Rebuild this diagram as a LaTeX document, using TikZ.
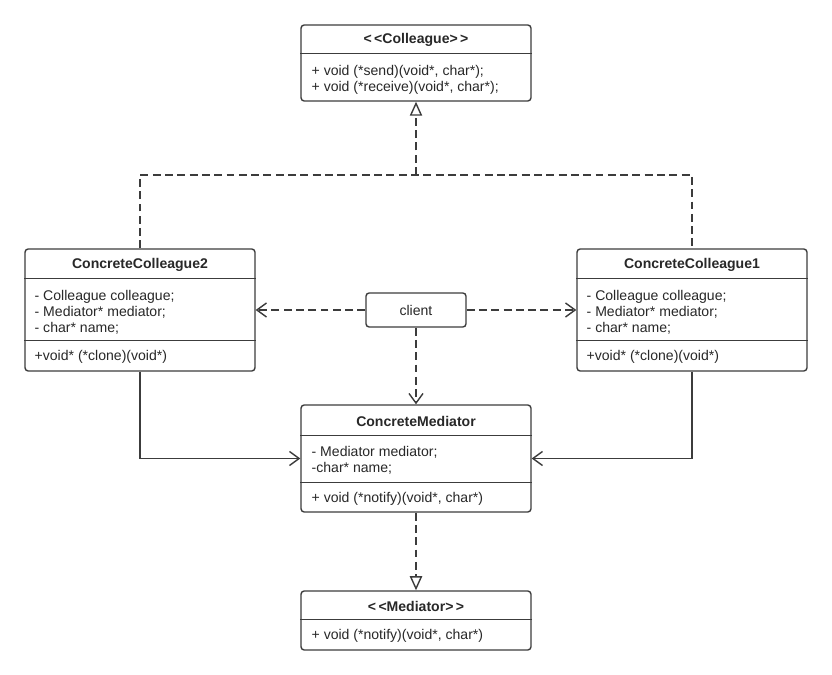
\documentclass[tikz,border=0pt]{standalone}
\usepackage{fontspec}
\setmainfont{Liberation Sans}
\definecolor{LineGray}{RGB}{60, 60, 60}
\definecolor{TextGray}{RGB}{40, 40, 40}
\usetikzlibrary{arrows.meta, positioning, calc}

\begin{document}
\begin{tikzpicture}[
        x=0.02cm, y=-0.02cm,
        % Styles
        classbox/.style={rectangle, draw=LineGray, line width=0.8pt, fill=white, rounded corners=1.8pt, minimum width=4.6cm, inner sep=0pt},
        classname/.style={font=\fontsize{8}{9}\selectfont\bfseries, text=TextGray, inner sep=0pt},
        members/.style={font=\fontsize{8}{9.07}\selectfont, text=TextGray, align=left, anchor=west, inner sep=0pt},
        divider/.style={draw=LineGray, line width=0.8pt},
        realize/.style={draw=LineGray, line width=0.8pt, dash pattern=on 4.5pt off 2.5pt, -{Triangle[open, length=8pt, width=7pt]}},
        depend/.style={draw=LineGray, line width=0.8pt, dash pattern=on 4.5pt off 2.5pt, -{Straight Barb[length=5.5pt, width=8pt]}},
        assoc/.style={draw=LineGray, line width=0.8pt, -{Straight Barb[length=5.5pt, width=8pt]}}
    ]
        \useasboundingbox (0,0) rectangle (832,675);

        % Colleague interface
        \node [classbox, minimum height=1.52cm] (colleague) at (416,63) {};
        \node [classname] (colleague-name) at ($(colleague.north)+(0,16)$) {<\,<Colleague>\,>};
        \path [divider] ($(colleague.north west)+(0,29)$) -- ($(colleague.north east)+(0,29)$);
        \node [members] (colleague-ops) at ($(colleague.north west)+(11,56)$) {+ void (*send)(void*, char*);\\+ void (*receive)(void*, char*);};

        % Concrete colleagues
        \node [classbox, minimum height=2.44cm] (cc2) at (140,310) {};
        \node [classname] (cc2-name) at ($(cc2.north)+(0,17)$) {ConcreteColleague2};
        \path [divider] ($(cc2.north west)+(0,30)$) -- ($(cc2.north east)+(0,30)$);
        \node [members] (cc2-attrs) at ($(cc2.north west)+(10,64)$) {- Colleague colleague;\\- Mediator* mediator;\\- char* name;};
        \path [divider] ($(cc2.north west)+(0,92)$) -- ($(cc2.north east)+(0,92)$);
        \node [members] (cc2-ops) at ($(cc2.north west)+(10,109)$) {+void* (*clone)(void*)};

        \node [classbox, minimum height=2.44cm] (cc1) at (692,310) {};
        \node [classname] (cc1-name) at ($(cc1.north)+(0,17)$) {ConcreteColleague1};
        \path [divider] ($(cc1.north west)+(0,30)$) -- ($(cc1.north east)+(0,30)$);
        \node [members] (cc1-attrs) at ($(cc1.north west)+(10,64)$) {- Colleague colleague;\\- Mediator* mediator;\\- char* name;};
        \path [divider] ($(cc1.north west)+(0,92)$) -- ($(cc1.north east)+(0,92)$);
        \node [members] (cc1-ops) at ($(cc1.north west)+(10,109)$) {+void* (*clone)(void*)};

        % Client
        \node [classbox, minimum width=2cm, minimum height=0.68cm, font=\fontsize{8}{9}\selectfont, text=TextGray] (client) at (416,310) {client};

        % Concrete mediator
        \node [classbox, minimum height=2.14cm] (cm) at (416,458.5) {};
        \node [classname] (cm-name) at ($(cm.north)+(0,17.5)$) {ConcreteMediator};
        \path [divider] ($(cm.north west)+(0,31)$) -- ($(cm.north east)+(0,31)$);
        \node [members] (cm-attrs) at ($(cm.north west)+(11,56)$) {- Mediator mediator;\\-char* name;};
        \path [divider] ($(cm.north west)+(0,78)$) -- ($(cm.north east)+(0,78)$);
        \node [members] (cm-ops) at ($(cm.north west)+(11,94.5)$) {+ void (*notify)(void*, char*)};

        % Mediator interface
        \node [classbox, minimum height=1.18cm] (mediator) at (416,620.5) {};
        \node [classname] (mediator-name) at ($(mediator.north)+(0,16)$) {<\,<Mediator>\,>};
        \path [divider] ($(mediator.north west)+(0,29)$) -- ($(mediator.north east)+(0,29)$);
        \node [members] (mediator-ops) at ($(mediator.north west)+(11,46)$) {+ void (*notify)(void*, char*)};

        % Paths
        \coordinate (joint) at (416,175);
        \path [divider, dash pattern=on 4.5pt off 2.5pt] (cc2.north) |- (joint) -| (cc1.north);
        \path [realize] (joint) -- (colleague.south);

        \path [depend] (client.west) -- (cc2.east |- client.west);
        \path [depend] (client.east) -- (cc1.west |- client.east);
        \path [depend] (client.south) -- (cm.north);

        \path [assoc] (cc2.south) |- (cm.west);
        \path [assoc] (cc1.south) |- (cm.east);

        \path [realize] (cm.south) -- (mediator.north);
    \end{tikzpicture}
\end{document}
